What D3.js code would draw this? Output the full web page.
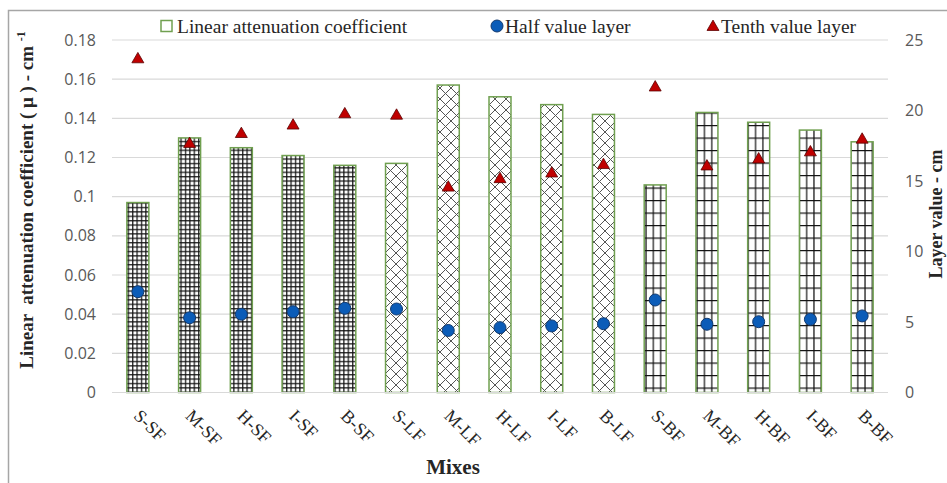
<!DOCTYPE html>
<html>
<head>
<meta charset="utf-8">
<script src="https://cdn.jsdelivr.net/npm/d3@7"></script>
<style>
  body { margin: 0; background: #fff; }
  svg { display: block; }
</style>
</head>
<body>
<div id="main_container"></div>
<script>

var mixes = ["S-SF", "M-SF", "H-SF", "I-SF", "B-SF", "S-LF", "M-LF", "H-LF", "I-LF", "B-LF", "S-BF", "M-BF", "H-BF", "I-BF", "B-BF"];
var fiberGroup = ["SF", "SF", "SF", "SF", "SF", "LF", "LF", "LF", "LF", "LF", "BF", "BF", "BF", "BF", "BF"];
var linearAttenuation = [0.097, 0.130, 0.125, 0.121, 0.116, 0.117, 0.157, 0.151, 0.147, 0.142, 0.106, 0.143, 0.138, 0.134, 0.128];
var halfValueLayer = [7.15, 5.30, 5.55, 5.73, 5.97, 5.92, 4.40, 4.60, 4.72, 4.88, 6.56, 4.84, 5.02, 5.19, 5.43];
var tenthValueLayer = [23.7, 17.7, 18.4, 19.0, 19.8, 19.7, 14.6, 15.2, 15.6, 16.2, 21.7, 16.1, 16.6, 17.1, 18.0];
var leftTicks = [0, 0.02, 0.04, 0.06, 0.08, 0.1, 0.12, 0.14, 0.16, 0.18];
var rightTicks = [0, 5, 10, 15, 20, 25];

var WIDTH = 947, HEIGHT = 483;
var plotLeft = 112, plotRight = 888, plotTop = 40, plotBottom = 392.5;
var serif = "'Liberation Serif', 'Times New Roman', serif";
var sans = "'Open Sans', 'Noto Sans', sans-serif";

var svg = d3.select("#main_container").append("svg")
  .attr("width", WIDTH)
  .attr("height", HEIGHT);

// chart frame
svg.append("rect")
  .attr("x", 8.5).attr("y", 10.5)
  .attr("width", 950).attr("height", 480)
  .attr("fill", "none")
  .attr("stroke", "#a6a6a6")
  .attr("stroke-width", 1.5);

// -- PATTERNS

var defs = svg.append("defs");

function addPattern(id, w, h, paths, strokeColor, strokeWidth) {
  var p = defs.append("pattern")
    .attr("id", id)
    .attr("patternUnits", "userSpaceOnUse")
    .attr("width", w)
    .attr("height", h);
  p.append("rect").attr("width", w).attr("height", h).attr("fill", "#fff");
  paths.forEach(function(d) {
    p.append("path")
      .attr("d", d)
      .attr("stroke", strokeColor)
      .attr("stroke-width", strokeWidth)
      .attr("fill", "none");
  });
}

// small grid for SF
addPattern("pat_SF", 4.4, 4.4, ["M0.7,0 V4.4", "M0,0.7 H4.4"], "#111", 1.2);
// diagonal cross for LF
addPattern("pat_LF", 11, 11, ["M0,0 L11,11", "M11,0 L0,11", "M-1,10 L1,12", "M10,-1 L12,1"], "#555", 1);
// wide grid for BF
addPattern("pat_BF", 7.3, 12.5, ["M3.65,0 V12.5", "M0,0.6 H7.3"], "#111", 1.2);

// -- SCALES

var x = d3.scaleBand()
  .domain(mixes)
  .range([plotLeft, plotRight])
  .paddingInner(0.575)
  .paddingOuter(0.2875);

var yLeft = d3.scaleLinear().domain([0, 0.18]).range([plotBottom, plotTop]);
var yRight = d3.scaleLinear().domain([0, 25]).range([plotBottom, plotTop]);

// gridlines
svg.append("g").selectAll("line")
  .data(leftTicks)
  .enter().append("line")
  .attr("x1", plotLeft).attr("x2", plotRight)
  .attr("y1", function(d) { return yLeft(d); })
  .attr("y2", function(d) { return yLeft(d); })
  .attr("stroke", "#d9d9d9")
  .attr("stroke-width", 1.2);

// left axis labels
var leftAxis = d3.axisLeft(yLeft)
  .tickValues(leftTicks)
  .tickSize(0)
  .tickPadding(16)
  .tickFormat(function(d) { return String(+d.toFixed(2)); });

var gl = svg.append("g")
  .attr("transform", "translate(" + plotLeft + ",0)")
  .call(leftAxis);
gl.select(".domain").remove();
gl.selectAll("text")
  .attr("font-family", sans)
  .attr("font-size", 16)
  .attr("fill", "#595959");

// right axis labels
var rightAxis = d3.axisRight(yRight)
  .tickValues(rightTicks)
  .tickSize(0)
  .tickPadding(17);

var gr = svg.append("g")
  .attr("transform", "translate(" + plotRight + ",0)")
  .call(rightAxis);
gr.select(".domain").remove();
gr.selectAll("text")
  .attr("font-family", sans)
  .attr("font-size", 16)
  .attr("fill", "#595959");

// -- BARS

var rows = mixes.map(function(m, i) {
  return {mix: m, group: fiberGroup[i], mu: linearAttenuation[i], hvl: halfValueLayer[i], tvl: tenthValueLayer[i]};
});

svg.append("g").selectAll("rect")
  .data(rows)
  .enter().append("rect")
  .attr("x", function(d) { return x(d.mix); })
  .attr("y", function(d) { return yLeft(d.mu); })
  .attr("width", x.bandwidth())
  .attr("height", function(d) { return yLeft(0) - yLeft(d.mu); })
  .attr("fill", function(d) { return "url(#pat_" + d.group + ")"; })
  .attr("stroke", "#70a050")
  .attr("stroke-width", 1.5);

// baseline over bars
svg.append("line")
  .attr("x1", plotLeft).attr("x2", plotRight)
  .attr("y1", plotBottom).attr("y2", plotBottom)
  .attr("stroke", "#d9d9d9")
  .attr("stroke-width", 1.2);

// -- MARKERS

function cx(d) { return x(d.mix) + x.bandwidth() / 2; }

var triangle = d3.symbol().type(d3.symbolTriangle).size(62);

svg.append("g").selectAll("circle")
  .data(rows)
  .enter().append("circle")
  .attr("cx", cx)
  .attr("cy", function(d) { return yRight(d.hvl); })
  .attr("r", 6)
  .attr("fill", "#0b5cb8")
  .attr("stroke", "#123a70")
  .attr("stroke-width", 1);

svg.append("g").selectAll("path")
  .data(rows)
  .enter().append("path")
  .attr("d", triangle)
  .attr("transform", function(d) { return "translate(" + cx(d) + "," + (yRight(d.tvl) + 1) + ")"; })
  .attr("fill", "#c00000")
  .attr("stroke", "#5a0000")
  .attr("stroke-width", 0.8);

// -- X LABELS

svg.append("g").selectAll("text")
  .data(rows)
  .enter().append("text")
  .attr("transform", function(d) { return "translate(" + (cx(d) - 5) + ",417) rotate(45)"; })
  .attr("font-family", serif)
  .attr("font-size", 18)
  .attr("fill", "#262626")
  .text(function(d) { return d.mix; });

// -- TITLES

svg.append("text")
  .attr("x", 453).attr("y", 474)
  .attr("text-anchor", "middle")
  .attr("font-family", serif)
  .attr("font-weight", "bold")
  .attr("font-size", 21)
  .attr("fill", "#262626")
  .text("Mixes");

var leftTitle = svg.append("text")
  .attr("transform", "translate(33,200) rotate(-90)")
  .attr("text-anchor", "middle")
  .attr("font-family", serif)
  .attr("font-weight", "bold")
  .attr("font-size", 19)
  .attr("fill", "#262626");
leftTitle.append("tspan").attr("xml:space", "preserve").text("Linear  attenuation coefficient ( μ ) - cm ");
leftTitle.append("tspan").attr("font-size", 12).attr("dy", -8).text("-1");

svg.append("text")
  .attr("transform", "translate(942,214) rotate(-90)")
  .attr("text-anchor", "middle")
  .attr("font-family", serif)
  .attr("font-weight", "bold")
  .attr("font-size", 18)
  .attr("fill", "#262626")
  .text("Layer value - cm");

// -- LEGEND

var legend = svg.append("g");
var legendY = 26;

legend.append("rect")
  .attr("x", 161).attr("y", legendY - 5.5)
  .attr("width", 11).attr("height", 11)
  .attr("fill", "#fff")
  .attr("stroke", "#70a050")
  .attr("stroke-width", 1.5);
legend.append("text")
  .attr("x", 177).attr("y", legendY + 6.5)
  .attr("font-family", serif).attr("font-size", 19.5).attr("fill", "#262626")
  .text("Linear attenuation coefficient");

legend.append("circle")
  .attr("cx", 497).attr("cy", legendY)
  .attr("r", 6)
  .attr("fill", "#0b5cb8")
  .attr("stroke", "#123a70");
legend.append("text")
  .attr("x", 505).attr("y", legendY + 6.5)
  .attr("font-family", serif).attr("font-size", 19.5).attr("fill", "#262626")
  .text("Half value layer");

legend.append("path")
  .attr("d", triangle)
  .attr("transform", "translate(713," + (legendY + 1) + ")")
  .attr("fill", "#c00000")
  .attr("stroke", "#5a0000")
  .attr("stroke-width", 0.8);
legend.append("text")
  .attr("x", 721).attr("y", legendY + 6.5)
  .attr("font-family", serif).attr("font-size", 19.5).attr("fill", "#262626")
  .text("Tenth value layer");

</script>
</body>
</html>
